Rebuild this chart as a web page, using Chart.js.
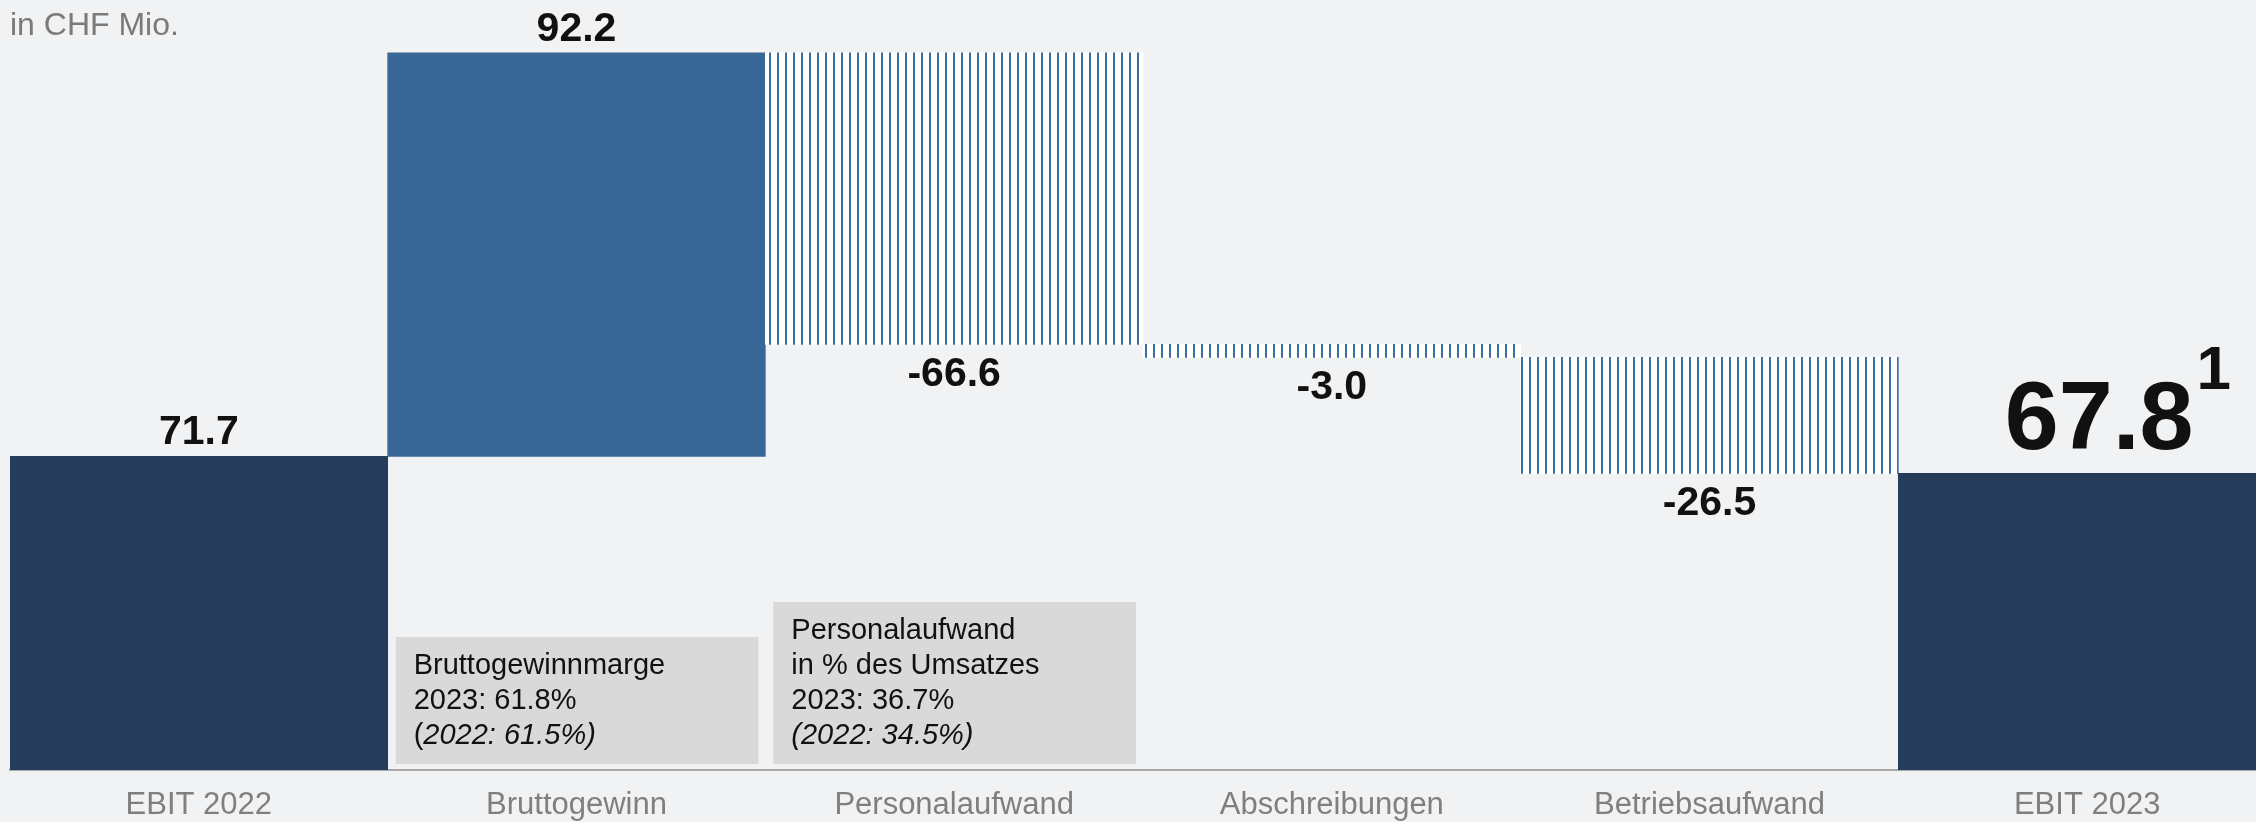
<!DOCTYPE html>
<html>
<head>
<meta charset="utf-8">
<script src="https://cdn.jsdelivr.net/npm/chart.js@4.4.0/dist/chart.umd.min.js"></script>
<style>
  html, body { margin: 0; padding: 0; background: #f0f2f4; overflow: hidden; }
  #wrap { width: 2276px; height: 822px; position: relative; }
</style>
</head>
<body>
<div id="wrap"><canvas id="ebitChart"></canvas></div>
<script>
// Daten (in CHF Mio.)
const categories = ["EBIT 2022", "Bruttogewinn", "Personalaufwand", "Abschreibungen", "Betriebsaufwand", "EBIT 2023"];
const changes = [71.7, 92.2, -66.6, -3.0, -26.5, 67.8];
const isTotal = [true, false, false, false, false, true];
const valueLabels = ["71.7", "92.2", "-66.6", "-3.0", "-26.5", "67.8"];
const unitLabel = "in CHF Mio.";
const footnoteMark = "1";
const noteBrutto = ["Bruttogewinnmarge", "2023: 61.8%", "(2022: 61.5%)"];
const notePersonal = ["Personalaufwand", "in % des Umsatzes", "2023: 36.7%", "(2022: 34.5%)"];

// Wasserfall: Start/Ende je Balken
let running = 0;
const ranges = changes.map((v, i) => {
  if (isTotal[i]) { running = v; return [0, v]; }
  const r = [running, running + v];
  running += v;
  return r;
});

const canvas = document.getElementById("ebitChart");
const ctx = canvas.getContext("2d");

function makeHatch() {
  const c = document.createElement("canvas");
  c.width = 8; c.height = 4;
  const g = c.getContext("2d");
  g.fillStyle = "#ffffff";
  g.fillRect(0, 0, 8, 4);
  g.fillStyle = "#3d6ca0";
  g.fillRect(1, 0, 2, 4);
  return ctx.createPattern(c, "repeat");
}
const hatch = makeHatch();
const colors = changes.map((v, i) => isTotal[i] ? "#253d5a" : (v >= 0 ? "#3a6896" : hatch));

const FONT = '"Liberation Sans", Arial, sans-serif';

function drawNote(c, xScale, area, index, lines, uprightParen) {
  const half = (xScale.getPixelForValue(1) - xScale.getPixelForValue(0)) / 2;
  const cx = xScale.getPixelForValue(index);
  const left = cx - half + 8, right = cx + half - 7;
  const bottom = area.bottom - 6;
  const top = bottom - (lines.length * 35 + 22);
  c.fillStyle = "#d9d9d9";
  c.fillRect(left, top, right - left, bottom - top);
  c.fillStyle = "#111111";
  c.textAlign = "left";
  c.textBaseline = "alphabetic";
  lines.forEach((line, k) => {
    const y = top + 37 + k * 35;
    let x = left + 18;
    if (k === lines.length - 1) {
      if (uprightParen) {
        c.font = "29px " + FONT;
        c.fillText("(", x, y);
        x += c.measureText("(").width;
        c.font = "italic 29px " + FONT;
        c.fillText(line.slice(1), x, y);
      } else {
        c.font = "italic 29px " + FONT;
        c.fillText(line, x, y);
      }
    } else {
      c.font = "29px " + FONT;
      c.fillText(line, x, y);
    }
  });
}

const annotate = {
  id: "annotate",
  afterDatasetsDraw(chart) {
    const { ctx: c, chartArea, scales: { x } } = chart;
    const meta = chart.getDatasetMeta(0);
    c.save();

    drawNote(c, x, chartArea, 1, noteBrutto, true);
    drawNote(c, x, chartArea, 2, notePersonal, false);

    c.fillStyle = "#111111";
    c.textAlign = "center";
    c.textBaseline = "alphabetic";
    const last = meta.data.length - 1;
    meta.data.forEach((bar, i) => {
      const top = Math.min(bar.y, bar.base);
      const bottom = Math.max(bar.y, bar.base);
      if (i === last) {
        c.font = "bold 97px " + FONT;
        const cx = bar.x + 12;
        const w = c.measureText(valueLabels[i]).width;
        const base = top - 24;
        c.fillText(valueLabels[i], cx, base);
        c.font = "bold 62px " + FONT;
        c.textAlign = "left";
        c.fillText(footnoteMark, cx + w / 2 + 3, base - 60);
        c.textAlign = "center";
      } else if (changes[i] >= 0) {
        c.font = "bold 41px " + FONT;
        c.fillText(valueLabels[i], bar.x, top - 12);
      } else {
        c.font = "bold 41px " + FONT;
        c.fillText(valueLabels[i], bar.x, bottom + 13 + 29);
      }
    });

    c.font = "32px " + FONT;
    c.fillStyle = "#7a7a7a";
    c.textAlign = "left";
    c.fillText(unitLabel, 10, 35);
    c.restore();
  }
};

new Chart(ctx, {
  type: "bar",
  data: {
    labels: categories,
    datasets: [{
      data: ranges,
      backgroundColor: colors,
      borderWidth: 0,
      barPercentage: 1,
      categoryPercentage: 1
    }]
  },
  options: {
    responsive: true,
    maintainAspectRatio: false,
    animation: false,
    layout: { padding: { left: 10, right: 0, top: 0, bottom: -11 } },
    plugins: { legend: { display: false }, tooltip: { enabled: false }, title: { display: false } },
    scales: {
      y: { display: false, min: 0, max: 176 },
      x: {
        grid: { display: false },
        border: { display: true, color: "#a8a8a8", width: 2 },
        ticks: {
          color: "#7f7f7f",
          font: { family: FONT, size: 31, lineHeight: 1 },
          padding: 12,
          maxRotation: 0,
          autoSkip: false
        }
      }
    }
  },
  plugins: [annotate]
});
</script>
</body>
</html>
